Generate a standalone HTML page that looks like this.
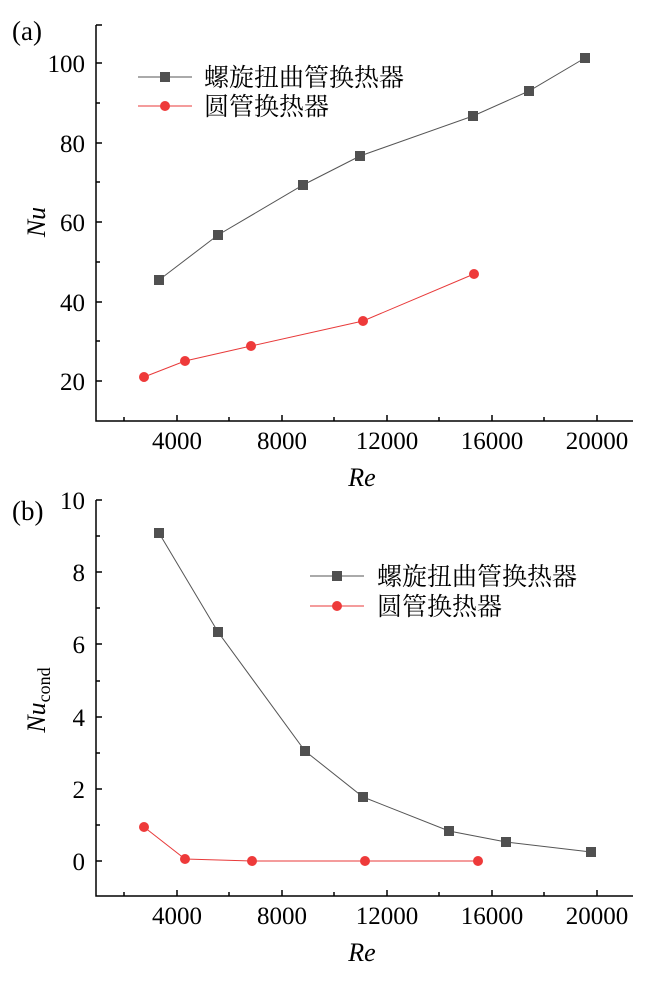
<!DOCTYPE html>
<html><head><meta charset="utf-8"><style>
html,body{margin:0;padding:0;background:#fff;}
svg text{font-family:"Liberation Serif","Noto Serif CJK SC",serif;fill:#000;}
.cjk{font-family:"Liberation Serif","Noto Serif CJK SC","Noto Sans CJK SC",serif;}
</style></head><body>
<svg width="650" height="978" viewBox="0 0 650 978" xmlns="http://www.w3.org/2000/svg">
<g stroke="#000" stroke-width="1.5" fill="none">
<path d="M96,25 V421 H633"/>
<path d="M96,25 h6 M96,63 h6 M96,103 h4 M96,143 h6 M96,182 h4 M96,222 h6 M96,262 h4 M96,302 h6 M96,341 h4 M96,381 h6"/>
<path d="M124,421 v-4 M177,421 v-6 M229,421 v-4 M282,421 v-6 M334,421 v-4 M387,421 v-6 M439,421 v-4 M492,421 v-6 M544,421 v-4 M597,421 v-6"/>
<path d="M96,500 V896 H633"/>
<path d="M96,500 h6 M96,536 h4 M96,572 h6 M96,608 h4 M96,644 h6 M96,681 h4 M96,717 h6 M96,753 h4 M96,789 h6 M96,825 h4 M96,861 h6"/>
<path d="M124,896 v-4 M177,896 v-6 M229,896 v-4 M282,896 v-6 M334,896 v-4 M387,896 v-6 M439,896 v-4 M492,896 v-6 M544,896 v-4 M597,896 v-6"/>
</g>
<g font-size="25" text-anchor="end">
<text x="85" y="72">100</text><text x="85" y="152">80</text><text x="85" y="231">60</text><text x="85" y="311">40</text><text x="85" y="390">20</text>
<text x="85" y="509">10</text><text x="85" y="581">8</text><text x="85" y="653">6</text><text x="85" y="726">4</text><text x="85" y="798">2</text><text x="85" y="870">0</text>
</g>
<g font-size="25" text-anchor="middle">
<text x="177" y="449">4000</text><text x="282" y="449">8000</text><text x="387" y="449">12000</text><text x="492" y="449">16000</text><text x="597" y="449">20000</text>
<text x="177" y="924">4000</text><text x="282" y="924">8000</text><text x="387" y="924">12000</text><text x="492" y="924">16000</text><text x="597" y="924">20000</text>
<text x="362" y="486" font-style="italic" font-size="26">Re</text>
<text x="362" y="961" font-style="italic" font-size="26">Re</text>
</g>
<text x="12" y="40" font-size="27">(a)</text>
<text x="12" y="520" font-size="27">(b)</text>
<text transform="translate(45,222) rotate(-90)" font-size="26" font-style="italic" text-anchor="middle">Nu</text>
<text transform="translate(45,700) rotate(-90)" font-size="26" text-anchor="middle"><tspan font-style="italic">Nu</tspan><tspan font-size="18" dy="5">cond</tspan></text>
<polyline points="159,280 218,235 303,185 360,156 473,116 529,91 585,58" fill="none" stroke="#555" stroke-width="1"/>
<polyline points="144,377 185,361 251,346 363,321 474,274" fill="none" stroke="#e83a3a" stroke-width="1"/>
<g fill="#505050"><rect x="154" y="275" width="10" height="10"/><rect x="213" y="230" width="10" height="10"/><rect x="298" y="180" width="10" height="10"/><rect x="355" y="151" width="10" height="10"/><rect x="468" y="111" width="10" height="10"/><rect x="524" y="86" width="10" height="10"/><rect x="580" y="53" width="10" height="10"/></g>
<g fill="#ee3a3a"><circle cx="144" cy="377" r="5"/><circle cx="185" cy="361" r="5"/><circle cx="251" cy="346" r="5"/><circle cx="363" cy="321" r="5"/><circle cx="474" cy="274" r="5"/></g>
<polyline points="159,533 218,632 305,751 363,797 449,831 506,842 591,852" fill="none" stroke="#555" stroke-width="1"/>
<polyline points="144,827 185,859 252,861 365,861 478,861" fill="none" stroke="#e83a3a" stroke-width="1"/>
<g fill="#505050"><rect x="154" y="528" width="10" height="10"/><rect x="213" y="627" width="10" height="10"/><rect x="300" y="746" width="10" height="10"/><rect x="358" y="792" width="10" height="10"/><rect x="444" y="826" width="10" height="10"/><rect x="501" y="837" width="10" height="10"/><rect x="586" y="847" width="10" height="10"/></g>
<g fill="#ee3a3a"><circle cx="144" cy="827" r="5"/><circle cx="185" cy="859" r="5"/><circle cx="252" cy="861" r="5"/><circle cx="365" cy="861" r="5"/><circle cx="478" cy="861" r="5"/></g>
<line x1="138" y1="77" x2="192" y2="77" stroke="#555" stroke-width="1"/><rect x="160" y="72" width="10" height="10" fill="#505050"/>
<line x1="138" y1="106" x2="192" y2="106" stroke="#e83a3a" stroke-width="1"/><circle cx="165" cy="106" r="5" fill="#ee3a3a"/>
<text x="204" y="86" font-size="25" class="cjk">螺旋扭曲管换热器</text>
<text x="204" y="115" font-size="25" class="cjk">圆管换热器</text>
<line x1="310" y1="576" x2="364" y2="576" stroke="#555" stroke-width="1"/><rect x="332" y="571" width="10" height="10" fill="#505050"/>
<line x1="310" y1="606" x2="364" y2="606" stroke="#e83a3a" stroke-width="1"/><circle cx="337" cy="606" r="5" fill="#ee3a3a"/>
<text x="377" y="585" font-size="25" class="cjk">螺旋扭曲管换热器</text>
<text x="377" y="615" font-size="25" class="cjk">圆管换热器</text>
</svg>
</body></html>
